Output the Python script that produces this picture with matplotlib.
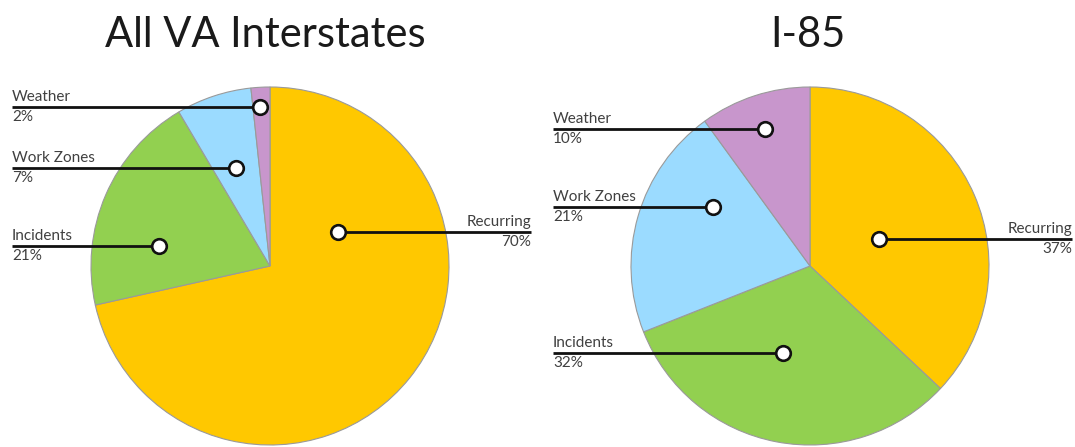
import matplotlib.pyplot as plt

# data
categories = ['Recurring', 'Incidents', 'Work Zones', 'Weather']
# slice sizes as drawn in the picture
all_va_share = [71.5, 20.0, 6.8, 1.7]
i85_share = [37, 32, 21, 10]
# percentages printed on the labels
all_va_label = [70, 21, 7, 2]
i85_label = [37, 32, 21, 10]
titles = ['All VA Interstates', 'I-85']

colors = ['#FFC800', '#92D050', '#9BDBFF', '#C896CC']

W, H = 1075, 447

# layout (pixels, y measured from top of image)
pie_centers = [(270, 266), (810, 266)]
pie_radius = 179
title_x = [265, 808]
# dot offsets from pie center (dx right, dy up), per category
dot_offsets = [
    [(68, 34), (-111, 20), (-34, 98), (-10, 159)],
    [(69, 27), (-27, -87), (-97, 59), (-45, 137)],
]
left_text_x = [12, 553]
right_text_x = [531, 1072]

plt.rcParams['font.family'] = ['Lato', 'DejaVu Sans']

fig = plt.figure(figsize=(W / 100, H / 100), dpi=100)
ax = fig.add_axes([0, 0, 1, 1])

for k, (shares, labels) in enumerate([(all_va_share, all_va_label),
                                      (i85_share, i85_label)]):
    cx, cy = pie_centers[k]
    ax.pie(shares, colors=colors, startangle=90, counterclock=False,
           center=(cx, H - cy), radius=pie_radius, frame=True,
           wedgeprops=dict(edgecolor='#9a9a9a', linewidth=0.8))

    ax.text(title_x[k], H - 35, titles[k], ha='center', va='center',
            fontsize=30, color='#1a1a1a')

    for cat, val, (dx, dy) in zip(categories, labels, dot_offsets[k]):
        px, py = cx + dx, H - cy + dy
        if cat == 'Recurring':
            tx = right_text_x[k]
            ha = 'right'
        else:
            tx = left_text_x[k]
            ha = 'left'
        ax.plot([tx, px], [py, py], color='#111111', lw=2.0, solid_capstyle='butt', zorder=3)
        ax.plot(px, py, 'o', ms=10.5, mfc='white', mec='#111111', mew=1.9, zorder=4)
        ax.text(tx, py + 3, cat, ha=ha, va='bottom', fontsize=11, color='#404040')
        ax.text(tx, py - 3, f'{val}%', ha=ha, va='top', fontsize=11, color='#404040')

ax.set_xlim(0, W)
ax.set_ylim(0, H)
ax.set_aspect('equal')
ax.axis('off')

fig.savefig('out.png', dpi=100, facecolor='white')
